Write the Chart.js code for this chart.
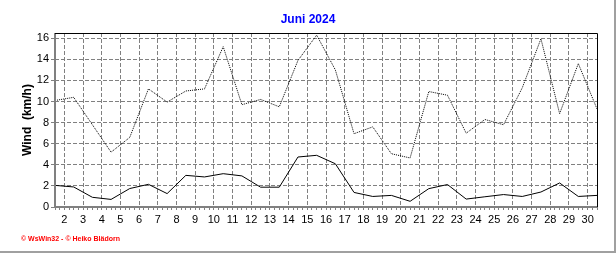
<!DOCTYPE html>
<html>
<head>
<meta charset="utf-8">
<script src="https://cdn.jsdelivr.net/npm/chart.js@4"></script>
<style>
  html, body { margin: 0; padding: 0; background: #ffffff; }
</style>
</head>
<body>
<canvas id="windChart" width="616" height="253"></canvas>
<script>
// daily values for June 2024
var days = [1, 2, 3, 4, 5, 6, 7, 8, 9, 10, 11, 12, 13, 14, 15,
            16, 17, 18, 19, 20, 21, 22, 23, 24, 25, 26, 27, 28, 29, 30];
var avgWind = [2.05, 1.9, 0.92, 0.72, 1.75, 2.15, 1.27, 3.0, 2.85, 3.16,
               2.95, 1.88, 1.88, 4.74, 4.9, 4.1, 1.38, 1.0, 1.1, 0.54,
               1.74, 2.13, 0.75, 0.97, 1.18, 1.0, 1.42, 2.28, 1.0, 1.1];
var maxWind = [10.1, 10.4, 7.8, 5.2, 6.6, 11.2, 9.95, 11.0, 11.2, 15.2,
               9.7, 10.2, 9.5, 13.9, 16.3, 13.0, 6.95, 7.6, 5.05, 4.65,
               10.95, 10.6, 7.0, 8.3, 7.8, 11.3, 15.95, 8.85, 13.6, 9.3];
var xTicks = [2, 3, 4, 5, 6, 7, 8, 9, 10, 11, 12, 13, 14, 15, 16,
              17, 18, 19, 20, 21, 22, 23, 24, 25, 26, 27, 28, 29, 30];
var yTicks = [0, 2, 4, 6, 8, 10, 12, 14, 16];

// a day's value sits at its noon, ticks mark where a day starts
function points(values) {
  return values.map(function (v, i) { return { x: days[i] + 0.5, y: v }; });
}

var frame = {
  id: 'frame',
  afterDraw: function (chart) {
    var a = chart.chartArea, c = chart.ctx;
    c.save();
    // solid gray axes left and bottom, thin black frame top and right
    c.strokeStyle = '#808080';
    c.lineWidth = 2;
    c.beginPath();
    c.moveTo(a.left, a.top);
    c.lineTo(a.left, a.bottom);
    c.lineTo(a.right, a.bottom);
    c.stroke();
    c.strokeStyle = '#000000';
    c.lineWidth = 1;
    c.beginPath();
    c.moveTo(a.left, a.top + 0.5);
    c.lineTo(a.right + 0.5, a.top + 0.5);
    c.lineTo(a.right + 0.5, a.bottom);
    c.stroke();
    c.strokeStyle = '#a0a0a0';
    c.lineWidth = 2;
    c.beginPath();
    c.moveTo(615, 0);
    c.lineTo(615, 252);
    c.lineTo(0, 252);
    c.stroke();
    c.fillStyle = '#ff0000';
    c.font = 'bold 7px Arial';
    c.textBaseline = 'alphabetic';
    c.fillText('\u00a9 WsWin32 - \u00a9 Heiko Bl\u00e4dorn', 21, 241);
    c.restore();
  }
};

Chart.defaults.font.family = 'Arial';
Chart.defaults.font.size = 11;
Chart.defaults.color = '#000000';

new Chart(document.getElementById('windChart'), {
  type: 'line',
  data: {
    datasets: [{
      label: 'Max',
      data: points(maxWind),
      borderColor: '#000000',
      borderWidth: 1,
      borderDash: [1, 1],
      pointRadius: 0,
      tension: 0
    }, {
      label: 'Mittel',
      data: points(avgWind),
      borderColor: '#000000',
      borderWidth: 1,
      pointRadius: 0,
      tension: 0
    }]
  },
  options: {
    responsive: false,
    animation: false,
    devicePixelRatio: 1,
    layout: { padding: 0 },
    plugins: {
      legend: { display: false },
      tooltip: { enabled: false },
      title: {
        display: true,
        text: 'Juni 2024',
        color: '#0000ff',
        font: { size: 12, weight: 'bold' },
        padding: { top: 12, bottom: 6.6 }
      }
    },
    scales: {
      x: {
        type: 'linear',
        min: 1.5,
        max: 30.5,
        afterBuildTicks: function (axis) {
          var t = [];
          for (var q = axis.min * 4; q <= axis.max * 4; q++) t.push({ value: q / 4 });
          axis.ticks = t;
        },
        afterFit: function (axis) { axis.height = 46; },
        ticks: {
          autoSkip: false,
          maxRotation: 0,
          padding: 3,
          callback: function (v) { return xTicks.indexOf(v) >= 0 ? String(v) : ''; }
        },
        grid: {
          color: function (ctx) {
            return ctx.tick && xTicks.indexOf(ctx.tick.value) >= 0 ? '#808080' : 'rgba(0,0,0,0)';
          },
          tickColor: '#808080',
          tickLength: 3,
          tickBorderDash: [3, 0]
        },
        border: { display: false, dash: [4, 2] }
      },
      y: {
        min: 0,
        max: 16.5,
        afterBuildTicks: function (axis) {
          axis.ticks = yTicks.map(function (v) { return { value: v }; });
        },
        afterFit: function (axis) { axis.width = 55; },
        ticks: { padding: 2 },
        grid: {
          color: '#808080',
          tickColor: '#808080',
          tickLength: 4,
          tickBorderDash: [3, 0]
        },
        border: { display: false, dash: [4, 2] },
        title: {
          display: true,
          text: 'Wind  (km/h)',
          font: { size: 12, weight: 'bold' },
          padding: { top: 20, bottom: 0 }
        }
      },
      // empty strip on the right so the title centres on the whole picture
      yRight: {
        position: 'right',
        min: 0,
        max: 16.5,
        afterFit: function (axis) { axis.width = 19; },
        ticks: { display: false },
        grid: { display: false },
        border: { display: false }
      }
    }
  },
  plugins: [frame]
});
</script>
</body>
</html>
